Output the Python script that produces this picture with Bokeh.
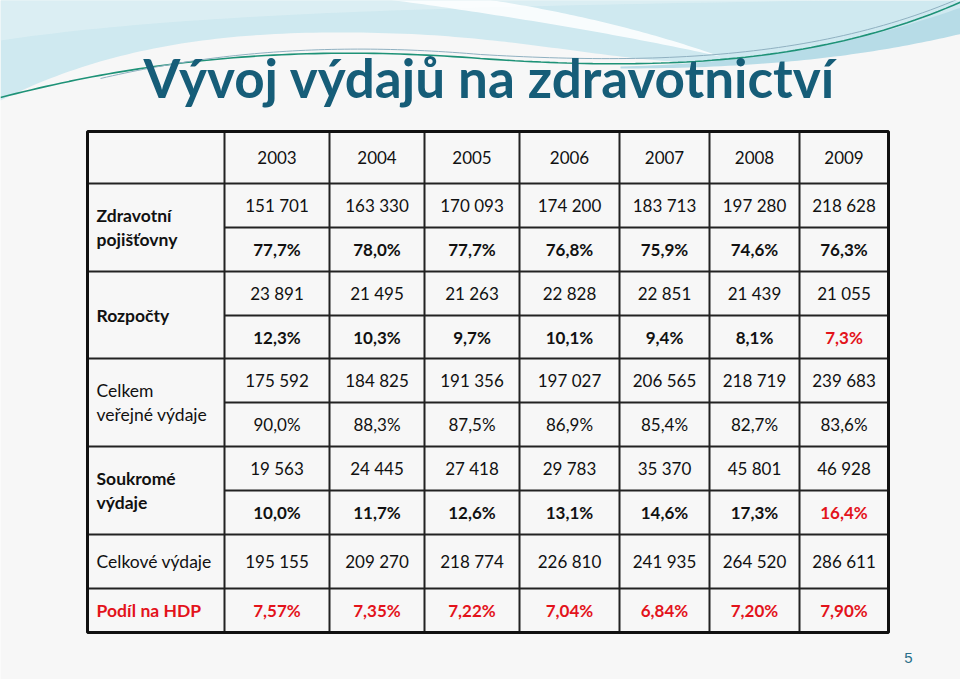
import numpy as np
from bokeh.plotting import figure
from bokeh.models import Range1d
from bokeh.core.properties import value
from bokeh.embed import file_html
from bokeh.resources import INLINE

# ---------------- data ----------------
title = "Vývoj výdajů na zdravotnictví"
years = ["2003", "2004", "2005", "2006", "2007", "2008", "2009"]

zp_values = [151701, 163330, 170093, 174200, 183713, 197280, 218628]
zp_pct = [77.7, 78.0, 77.7, 76.8, 75.9, 74.6, 76.3]
rozp_values = [23891, 21495, 21263, 22828, 22851, 21439, 21055]
rozp_pct = [12.3, 10.3, 9.7, 10.1, 9.4, 8.1, 7.3]
verejne_values = [175592, 184825, 191356, 197027, 206565, 218719, 239683]
verejne_pct = [90.0, 88.3, 87.5, 86.9, 85.4, 82.7, 83.6]
soukrome_values = [19563, 24445, 27418, 29783, 35370, 45801, 46928]
soukrome_pct = [10.0, 11.7, 12.6, 13.1, 14.6, 17.3, 16.4]
celkove_values = [195155, 209270, 218774, 226810, 241935, 264520, 286611]
hdp_pct = [7.57, 7.35, 7.22, 7.04, 6.84, 7.20, 7.90]

row_labels = ["Zdravotní\npojišťovny", "Rozpočty", "Celkem\nveřejné výdaje",
              "Soukromé\nvýdaje", "Celkové výdaje", "Podíl na HDP"]
page_number = "5"

# ---------------- layout / style ----------------
RED = "#e3131b"
TEAL = "#165d78"
BG = "#f7f7f7"
FONT = value("Lato")

col_edges = [87, 224, 329, 424, 519, 619, 709, 799, 888]
row_edges = [131, 183, 227, 271, 315, 358, 402, 446, 490, 534, 588, 632]
col_c = [(a + b) / 2 for a, b in zip(col_edges[1:-1], col_edges[2:])]
row_c = [(a + b) / 2 for a, b in zip(row_edges[:-1], row_edges[1:])]

p = figure(width=960, height=679, output_backend="svg", toolbar_location=None,
           x_range=Range1d(0, 960), y_range=Range1d(679, 0), min_border=0)
p.axis.visible = False
p.grid.visible = False
p.outline_line_color = None
p.background_fill_color = BG
p.border_fill_color = BG


def bez(p0, p1, p2, p3, n=60):
    t = np.linspace(0, 1, n)[:, None]
    pts = ((1 - t) ** 3) * np.array(p0) + 3 * ((1 - t) ** 2) * t * np.array(p1) \
        + 3 * (1 - t) * t ** 2 * np.array(p2) + t ** 3 * np.array(p3)
    return pts[:, 0], pts[:, 1]


def chain(*segs):
    xs, ys = [], []
    for s in segs:
        x, y = bez(*s)
        xs.extend(x)
        ys.extend(y)
    return xs, ys


# ---------------- decoration ----------------
bx, by = chain(((0, 100), (120, 40), (250, 26), (420, 34)),
               ((420, 34), (560, 42), (640, 68), (760, 62)),
               ((760, 62), (860, 56), (920, 20), (975, 4)))
p.patch(bx + [975, 0], by + [-10, -10], fill_color="#cfe9f0", line_color=None)
# lighter upper part
ux, uy = chain(((0, 40), (200, 10), (500, 5), (960, -2)))
p.patch(ux + [960, 0], uy + [-10, -10], fill_color="#e3f1f5", line_color=None, fill_alpha=0.6)
# white swoosh
s1x, s1y = bez((380, -2), (500, 14), (620, 34), (720, 56))
s2x, s2y = bez((720, 56), (640, 28), (560, 10), (480, -2))
p.patch(list(s1x) + list(s2x), list(s1y) + list(s2y), fill_color="white",
        line_color=None, fill_alpha=0.85)
# deeper blue band on the right
b1x, b1y = bez((620, 66), (790, 62), (890, 32), (975, 2))
b2x, b2y = bez((975, 30), (900, 48), (800, 68), (620, 68))
p.patch(list(b1x) + list(b2x), list(b1y) + list(b2y), fill_color="#b7dce7",
        line_color=None)
# thin lines
lx, ly = chain(((0, 97), (150, 58), (300, 44), (480, 58)),
               ((480, 58), (650, 70), (820, 66), (968, -2)))
p.line(lx, ly, line_color="#1e9277", line_width=1.6)
gx, gy = chain(((100, 78), (220, 50), (340, 42), (480, 54)),
               ((480, 54), (650, 64), (820, 60), (968, -6)))
p.line(gx, gy, line_color="#8fb0c0", line_width=1)

# ---------------- title ----------------
p.text(x=[489], y=[77], text=[title], text_font=FONT, text_font_style="bold",
       text_font_size="53px", text_color=TEAL, text_align="center",
       text_baseline="middle")

# ---------------- table ----------------
p.quad(left=[col_edges[0]], right=[col_edges[-1]], top=[row_edges[0]],
       bottom=[row_edges[-1]], fill_color=BG, line_color=None)

full_rows = [1, 3, 5, 7, 9, 10]
inner_rows = [2, 4, 6, 8]
x0 = [col_edges[0]] * len(full_rows) + [col_edges[1]] * len(inner_rows)
x1 = [col_edges[-1]] * (len(full_rows) + len(inner_rows))
yy = [row_edges[i] for i in full_rows] + [row_edges[i] for i in inner_rows]
p.segment(x0=x0, x1=x1, y0=yy, y1=yy, line_color="#222222", line_width=2)
vx = col_edges[1:-1]
p.segment(x0=vx, x1=vx, y0=[row_edges[0]] * len(vx), y1=[row_edges[-1]] * len(vx),
          line_color="#222222", line_width=2)
p.quad(left=[col_edges[0]], right=[col_edges[-1]], top=[row_edges[0]],
       bottom=[row_edges[-1]], fill_color=None, line_color="#111111", line_width=3)


def fint(v):
    return f"{v:,}".replace(",", " ")


def fpct(v, d=1):
    return f"{v:.{d}f}%".replace(".", ",")


def put(texts, row, bold=False, colors=None, size="17px"):
    cols = colors if colors is not None else ["#111111"] * len(texts)
    p.text(x=col_c, y=[row_c[row]] * len(texts), text=texts, text_font=FONT,
           text_font_style="bold" if bold else "normal", text_font_size=size,
           text_color=cols, text_align="center", text_baseline="middle")


put(years, 0)
put([fint(v) for v in zp_values], 1)
put([fpct(v) for v in zp_pct], 2, bold=True)
put([fint(v) for v in rozp_values], 3)
put([fpct(v) for v in rozp_pct], 4, bold=True, colors=["#111111"] * 6 + [RED])
put([fint(v) for v in verejne_values], 5)
put([fpct(v) for v in verejne_pct], 6)
put([fint(v) for v in soukrome_values], 7)
put([fpct(v) for v in soukrome_pct], 8, bold=True, colors=["#111111"] * 6 + [RED])
put([fint(v) for v in celkove_values], 9)
put([fpct(v, 2) for v in hdp_pct], 10, bold=True, colors=[RED] * 7)

# row labels
lab_x = 96
label_specs = [
    (row_labels[0], (row_edges[1] + row_edges[3]) / 2, "bold", "#111111"),
    (row_labels[1], (row_edges[3] + row_edges[5]) / 2, "bold", "#111111"),
    (row_labels[2], (row_edges[5] + row_edges[7]) / 2, "normal", "#111111"),
    (row_labels[3], (row_edges[7] + row_edges[9]) / 2, "bold", "#111111"),
    (row_labels[4], row_c[9], "normal", "#111111"),
    (row_labels[5], row_c[10], "bold", RED),
]
for txt, yc, style, col in label_specs:
    p.text(x=[lab_x], y=[yc], text=[txt], text_font=FONT, text_font_style=style,
           text_font_size="17.5px", text_color=col, text_align="left",
           text_baseline="middle", text_line_height=1.1)

p.text(x=[908], y=[657], text=[page_number], text_font=value("Liberation Sans"),
       text_font_size="15px", text_color="#2a6f8a", text_align="center",
       text_baseline="middle")

open("out.html", "w").write(file_html(p, INLINE))
